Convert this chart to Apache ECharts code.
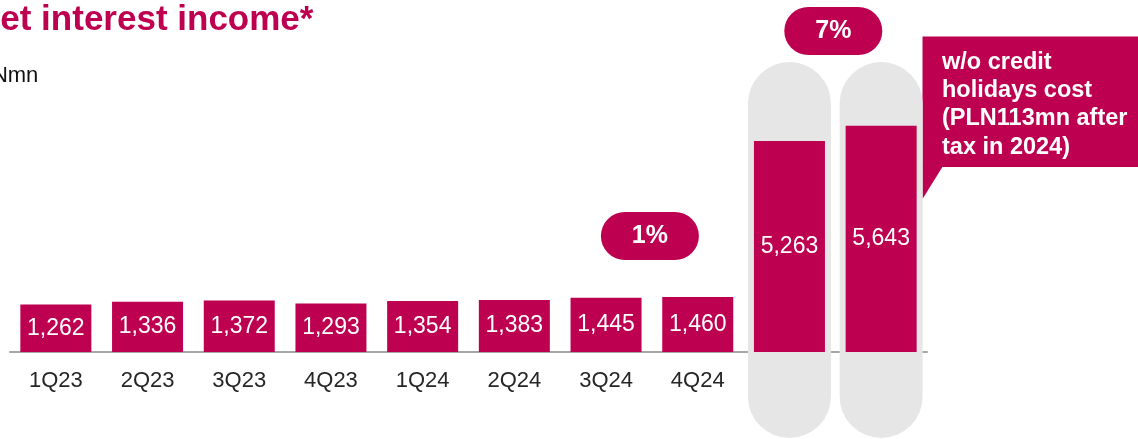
<!DOCTYPE html>
<html>
<head>
<meta charset="utf-8">
<script src="https://cdn.jsdelivr.net/npm/echarts@6/dist/echarts.min.js"></script>
<style>
  html, body { margin: 0; padding: 0; background: #fff; }
  #main { width: 1138px; height: 439px; }
</style>
</head>
<body>
<div id="main"></div>
<script>
// data
var categories = ["1Q23", "2Q23", "3Q23", "4Q23", "1Q24", "2Q24", "3Q24", "4Q24", "2023", "2024"];
var quarterValues = [1262, 1336, 1372, 1293, 1354, 1383, 1445, 1460];
var annualValues = [5263, 5643];
var growthLabels = ["1%", "7%"];
var growthFrom = [6, 8]; // index of first category of each compared pair

var MAGENTA = "#BE0050";
var GREY = "#E6E6E6";
var growthY = [236, 31]; // pixel centre of the growth pills

var chart = echarts.init(document.getElementById("main"));

var nQ = quarterValues.length;
var qData = categories.map(function (c, i) { return i < nQ ? quarterValues[i] : "-"; });
var aData = categories.map(function (c, i) { return i >= nQ ? annualValues[i - nQ] : "-"; });

function fmt(v) {
  return v.toLocaleString("en-US");
}

var option = {
  animation: false,
  grid: { left: 10, right: 211, top: 62, bottom: 87, containLabel: false },
  title: [
    {
      text: "Net interest income*",
      left: -30,
      top: -2,
      textStyle: { fontFamily: "Liberation Sans, Arial", fontWeight: "bold", fontSize: 35, color: MAGENTA }
    },
    {
      text: "PLNmn",
      left: -40,
      top: 60,
      textStyle: { fontFamily: "Liberation Sans, Arial", fontWeight: "normal", fontSize: 22, color: "#111" }
    }
  ],
  xAxis: {
    type: "category",
    data: categories,
    axisLine: { show: true, lineStyle: { color: "#A6A6A6", width: 2 } },
    axisTick: { show: false },
    axisLabel: { color: "#262626", fontSize: 22, fontFamily: "Liberation Sans, Arial", margin: 18 }
  },
  yAxis: [
    { type: "value", min: 0, max: 7713, show: false, splitLine: { show: false } },
    { type: "value", min: 0, max: 7232, show: false, splitLine: { show: false } }
  ],
  series: [
    {
      // grey rounded backgrounds behind the annual bars
      type: "custom",
      name: "bg",
      xAxisIndex: 0,
      yAxisIndex: 1,
      z: 1,
      silent: true,
      data: annualValues.map(function (v, i) { return [nQ + i, v]; }),
      renderItem: function (params, api) {
        var p = api.coord([api.value(0), 0]);
        var w = 83;
        var cs = params.coordSys;
        var top = cs.y;
        var bottom = cs.y + cs.height + 86;
        return {
          type: "rect",
          shape: { x: p[0] - w / 2, y: top, width: w, height: bottom - top, r: w / 2 },
          style: { fill: GREY }
        };
      }
    },
    {
      type: "bar",
      name: "quarter",
      yAxisIndex: 0,
      z: 2,
      barWidth: 71,
      barGap: "-100%",
      data: qData,
      itemStyle: { color: MAGENTA },
      label: {
        show: true,
        position: "inside",
        color: "#fff",
        fontSize: 23,
        fontFamily: "Liberation Sans, Arial",
        formatter: function (p) { return fmt(p.value); }
      }
    },
    {
      type: "bar",
      name: "annual",
      yAxisIndex: 1,
      z: 2,
      barWidth: 71,
      barGap: "-100%",
      data: aData,
      itemStyle: { color: MAGENTA },
      label: {
        show: true,
        position: "inside",
        color: "#fff",
        fontSize: 23,
        fontFamily: "Liberation Sans, Arial",
        formatter: function (p) { return fmt(p.value); }
      }
    },
    {
      // growth pills between compared bars
      type: "custom",
      name: "growth",
      yAxisIndex: 0,
      z: 3,
      silent: true,
      data: growthFrom.map(function (i) { return [i, 0]; }),
      renderItem: function (params, api) {
        var i = api.value(0);
        var a = api.coord([i, 0]);
        var b = api.coord([i + 1, 0]);
        var cx = (a[0] + b[0]) / 2 - 2;
        var cy = growthY[params.dataIndex];
        var w = 98, h = 48;
        return {
          type: "group",
          children: [
            {
              type: "rect",
              shape: { x: cx - w / 2, y: cy - h / 2, width: w, height: h, r: h / 2 },
              style: { fill: MAGENTA }
            },
            {
              type: "text",
              x: cx,
              y: cy,
              style: {
                text: growthLabels[params.dataIndex],
                fill: "#fff",
                font: "bold 25px 'Liberation Sans', Arial",
                align: "center",
                verticalAlign: "middle"
              }
            }
          ]
        };
      }
    }
  ],
  graphic: [
    {
      type: "group",
      z: 10,
      children: [
        {
          type: "rect",
          shape: { x: 922.5, y: 36.5, width: 230, height: 130.5 },
          style: { fill: MAGENTA }
        },
        {
          type: "polygon",
          shape: { points: [[922.5, 166], [922.5, 199], [943, 166]] },
          style: { fill: MAGENTA }
        },
        {
          type: "text",
          x: 942,
          y: 48,
          style: {
            text: "w/o credit\nholidays cost\n(PLN113mn after\ntax in 2024)",
            fill: "#fff",
            font: "bold 23.5px 'Liberation Sans', Arial",
            lineHeight: 28.3,
            align: "left",
            verticalAlign: "top"
          }
        }
      ]
    }
  ]
};

chart.setOption(option);
</script>
</body>
</html>
